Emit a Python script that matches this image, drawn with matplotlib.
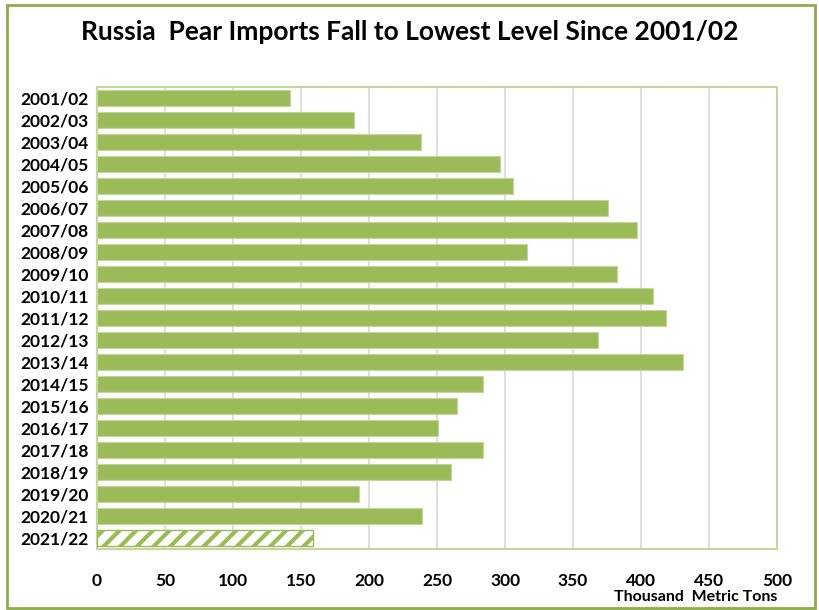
import matplotlib
matplotlib.use("Agg")
import matplotlib.pyplot as plt
from matplotlib.patches import Rectangle

# Marketing years and import volumes (thousand metric tons)
years = ['2001/02', '2002/03', '2003/04', '2004/05', '2005/06', '2006/07',
         '2007/08', '2008/09', '2009/10', '2010/11', '2011/12', '2012/13',
         '2013/14', '2014/15', '2015/16', '2016/17', '2017/18', '2018/19',
         '2019/20', '2020/21', '2021/22']
imports = [142, 189, 238, 296, 306, 376, 397, 316, 382, 409, 418, 368,
           431, 284, 265, 251, 284, 260, 193, 239, 159]
forecast = [False] * 20 + [True]
x_ticks = [0, 50, 100, 150, 200, 250, 300, 350, 400, 450, 500]

GREEN = '#9bbb59'
FONT = 'Lato'

# hatch settings must be in place before the bars are made
plt.rcParams['hatch.linewidth'] = 3.0
plt.rcParams['hatch.color'] = GREEN

fig = plt.figure(figsize=(8.2, 6.1), dpi=100)
ax = fig.add_axes([0.1183, 0.100, 0.8293, 0.7574])

for i, (yr, val, fc) in enumerate(zip(years, imports, forecast)):
    if fc:
        ax.barh(i, val, height=0.74, color='white', edgecolor=GREEN,
                hatch='//', linewidth=1.0, zorder=3)
    else:
        ax.barh(i, val, height=0.74, color=GREEN, edgecolor='#c3d69b',
                linewidth=0.8, zorder=3)

ax.set_ylim(len(years) - 0.5, -0.5)
ax.set_xlim(0, 500)
ax.set_yticks(range(len(years)))
ax.set_yticklabels(years, fontsize=12.5, fontweight='bold', family=FONT)
ax.set_xticks(x_ticks)
ax.set_xticklabels([str(t) for t in x_ticks], fontsize=12.5, fontweight='bold', family=FONT)
ax.tick_params(axis='both', length=0)
ax.tick_params(axis='x', pad=17)
ax.tick_params(axis='y', pad=6)

ax.grid(axis='x', color='#d9d9d9', linewidth=1.2, zorder=0)
ax.set_axisbelow(True)
for side in ['top', 'bottom', 'left', 'right']:
    ax.spines[side].set_color('#c3d69b')
    ax.spines[side].set_linewidth(1.5)

fig.text(0.5, 0.948, 'Russia  Pear Imports Fall to Lowest Level Since 2001/02',
         ha='center', va='center', fontsize=19, fontweight='bold', family=FONT)
fig.text(0.9476, 0.022, 'Thousand  Metric Tons', ha='right', va='center',
         fontsize=11.5, fontweight='bold', family=FONT)

# outer chart frame
fig.patches.append(Rectangle((0.0085, 0.0033), 0.985, 0.9885, transform=fig.transFigure,
                             fill=False, edgecolor='#8eac4c', linewidth=2))

fig.savefig('out.png', dpi=100)
